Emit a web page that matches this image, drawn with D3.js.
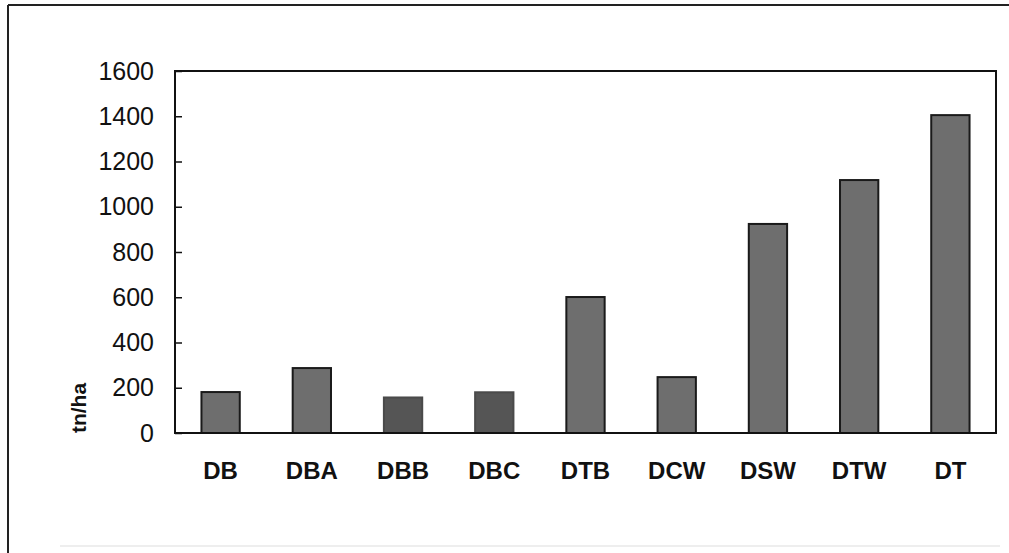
<!DOCTYPE html>
<html><head><meta charset="utf-8">
<script src="https://cdn.jsdelivr.net/npm/d3@7"></script>
<style>body{margin:0;background:#fff;} svg{display:block;}</style>
</head><body>
<script>
const categories = ["DB","DBA","DBB","DBC","DTB","DCW","DSW","DTW","DT"];
const values = [181, 287, 157, 180, 601, 247, 924, 1118, 1405];
const darkBars = ["DBB","DBC"];
const yTicks = [0,200,400,600,800,1000,1200,1400,1600];
const yTitle = "tn/ha";

const W = 1009, H = 553;
const m = {left:175, top:71, right:996, bottom:433};
const svg = d3.select("body").append("svg").attr("width",W).attr("height",H);

// outer frame
svg.append("line").attr("x1",8).attr("y1",5).attr("x2",1009).attr("y2",5).attr("stroke","#222").attr("stroke-width",2);
svg.append("line").attr("x1",8).attr("y1",5).attr("x2",8).attr("y2",553).attr("stroke","#222").attr("stroke-width",2);
svg.append("line").attr("x1",60).attr("y1",546).attr("x2",1000).attr("y2",546).attr("stroke","#ddd").attr("stroke-width",1);

const x = d3.scaleBand().domain(categories).range([m.left,m.right]).paddingInner(0.58).paddingOuter(0.29);
const y = d3.scaleLinear().domain([0,1600]).range([m.bottom,m.top]);

svg.append("g").selectAll("rect").data(categories).join("rect")
  .attr("x",d=>x(d)).attr("width",x.bandwidth())
  .attr("y",(d,i)=>y(values[i])).attr("height",(d,i)=>y(0)-y(values[i]))
  .attr("fill",d=>darkBars.includes(d)?"#555":"#6e6e6e")
  .attr("stroke",d=>darkBars.includes(d)?"#4a4a4a":"#1a1a1a")
  .attr("stroke-width",2);

// plot border
svg.append("rect").attr("x",m.left).attr("y",m.top).attr("width",m.right-m.left).attr("height",m.bottom-m.top)
  .attr("fill","none").attr("stroke","#111").attr("stroke-width",2);

// y axis
const ya = svg.append("g").attr("transform",`translate(${m.left},0)`)
  .call(d3.axisLeft(y).tickValues(yTicks).tickSize(-7).tickPadding(21).tickFormat(d3.format("d")));
ya.select(".domain").remove();
ya.selectAll("line").attr("stroke","#111").attr("stroke-width",1.5);
ya.selectAll("text").attr("font-family","Liberation Sans, Arial, sans-serif").attr("font-size",25).attr("fill","#111");

// x axis
const xa = svg.append("g").attr("transform",`translate(0,${m.bottom})`)
  .call(d3.axisBottom(x).tickSize(0).tickPadding(29));
xa.select(".domain").remove();
xa.selectAll("text").attr("font-family","Liberation Sans, Arial, sans-serif").attr("font-size",24).attr("font-weight","bold").attr("fill","#111");

svg.append("text").attr("transform","translate(86,408) rotate(-90)").attr("text-anchor","middle")
  .attr("font-family","Liberation Sans, Arial, sans-serif").attr("font-size",21).attr("font-weight","bold").attr("fill","#111")
  .text(yTitle);
</script>
</body></html>
